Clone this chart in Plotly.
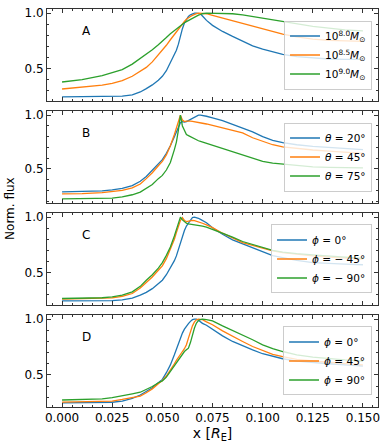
import plotly.graph_objects as go
from plotly.subplots import make_subplots

# shared x grid [R_E]
x = [0.000, 0.010, 0.020, 0.025, 0.030, 0.035, 0.039, 0.042, 0.045, 0.048,
     0.050, 0.052, 0.054, 0.056, 0.057, 0.058, 0.059, 0.060, 0.061, 0.062,
     0.063, 0.064, 0.065, 0.066, 0.067, 0.068, 0.069, 0.070, 0.072, 0.075,
     0.080, 0.085, 0.090, 0.095, 0.100, 0.105, 0.110, 0.117, 0.125, 0.133,
     0.141, 0.150]

# Panel A: black hole mass
a_m80 = [0.244, 0.244, 0.245, 0.246, 0.250, 0.262, 0.288, 0.318, 0.352, 0.395,
         0.430, 0.480, 0.550, 0.625, 0.665, 0.720, 0.800, 0.860, 0.910, 0.945,
         0.970, 0.985, 0.995, 1.000, 1.000, 1.000, 0.995, 0.975, 0.935, 0.890,
         0.835, 0.790, 0.745, 0.705, 0.675, 0.650, 0.628, 0.607, 0.594, 0.586,
         0.583, 0.582]
a_m85 = [0.315, 0.330, 0.350, 0.365, 0.390, 0.430, 0.473, 0.510, 0.560, 0.620,
         0.667, 0.710, 0.760, 0.810, 0.835, 0.860, 0.885, 0.905, 0.925, 0.945,
         0.960, 0.970, 0.980, 0.990, 0.995, 1.000, 1.000, 1.000, 0.995, 0.980,
         0.955, 0.930, 0.905, 0.880, 0.855, 0.835, 0.810, 0.785, 0.765, 0.755,
         0.750, 0.745]
a_m90 = [0.378, 0.400, 0.435, 0.460, 0.490, 0.540, 0.590, 0.630, 0.670, 0.715,
         0.745, 0.780, 0.815, 0.845, 0.860, 0.875, 0.890, 0.902, 0.913, 0.924,
         0.935, 0.945, 0.955, 0.965, 0.975, 0.982, 0.988, 0.995, 1.000, 1.000,
         1.000, 0.995, 0.985, 0.970, 0.950, 0.935, 0.920, 0.900, 0.880, 0.865,
         0.850, 0.840]

# Panel B: inclination theta
b_t20 = [0.287, 0.290, 0.297, 0.305, 0.320, 0.345, 0.385, 0.430, 0.485, 0.545,
         0.586, 0.645, 0.715, 0.800, 0.845, 0.890, 0.930, 0.940, 0.935, 0.940,
         0.950, 0.960, 0.970, 0.980, 0.990, 1.000, 1.000, 0.998, 0.990, 0.975,
         0.950, 0.915, 0.880, 0.845, 0.800, 0.765, 0.745, 0.725, 0.710, 0.700,
         0.690, 0.680]
b_t45 = [0.268, 0.270, 0.280, 0.287, 0.300, 0.325, 0.360, 0.410, 0.465, 0.530,
         0.570, 0.630, 0.715, 0.820, 0.880, 0.950, 1.000, 0.955, 0.940, 0.945,
         0.948, 0.945, 0.942, 0.940, 0.935, 0.930, 0.928, 0.925, 0.918, 0.905,
         0.880, 0.860, 0.835, 0.790, 0.755, 0.725, 0.705, 0.690, 0.676, 0.665,
         0.655, 0.645]
b_t75 = [0.222, 0.222, 0.225, 0.228, 0.240, 0.260, 0.285, 0.320, 0.355, 0.410,
         0.440, 0.490, 0.560, 0.680, 0.750, 0.860, 1.000, 0.900, 0.860, 0.820,
         0.810, 0.800, 0.785, 0.775, 0.768, 0.762, 0.756, 0.750, 0.736, 0.720,
         0.690, 0.660, 0.630, 0.600, 0.570, 0.555, 0.545, 0.530, 0.520, 0.515,
         0.512, 0.510]

# Panel C: azimuth phi (negative)
c_p0 = [0.244, 0.244, 0.245, 0.246, 0.252, 0.268, 0.295, 0.320, 0.354, 0.395,
        0.430, 0.480, 0.540, 0.607, 0.650, 0.710, 0.770, 0.830, 0.880, 0.920,
        0.950, 0.975, 0.997, 1.000, 0.998, 0.990, 0.980, 0.968, 0.950, 0.905,
        0.845, 0.795, 0.760, 0.725, 0.685, 0.652, 0.635, 0.610, 0.590, 0.580,
        0.575, 0.570]
c_m45 = [0.260, 0.262, 0.266, 0.270, 0.285, 0.310, 0.360, 0.410, 0.460, 0.520,
         0.560, 0.625, 0.710, 0.800, 0.860, 0.915, 0.970, 0.995, 0.970, 0.960,
         0.965, 0.970, 0.970, 0.968, 0.963, 0.958, 0.950, 0.945, 0.930, 0.905,
         0.855, 0.810, 0.770, 0.745, 0.720, 0.695, 0.680, 0.665, 0.650, 0.640,
         0.630, 0.620]
c_m90 = [0.265, 0.267, 0.272, 0.280, 0.295, 0.325, 0.375, 0.430, 0.480, 0.540,
         0.590, 0.655, 0.730, 0.830, 0.890, 0.950, 1.000, 0.975, 0.955, 0.945,
         0.940, 0.938, 0.935, 0.932, 0.930, 0.927, 0.923, 0.920, 0.910, 0.890,
         0.855, 0.820, 0.780, 0.755, 0.725, 0.700, 0.685, 0.670, 0.660, 0.648,
         0.638, 0.628]

# Panel D: azimuth phi (positive)
d_p0 = [0.250, 0.250, 0.252, 0.255, 0.265, 0.290, 0.320, 0.350, 0.385, 0.430,
        0.460, 0.520, 0.590, 0.680, 0.730, 0.780, 0.835, 0.875, 0.910, 0.940,
        0.960, 0.980, 0.995, 1.000, 1.000, 0.990, 0.975, 0.962, 0.945, 0.910,
        0.850, 0.800, 0.760, 0.725, 0.690, 0.665, 0.645, 0.624, 0.610, 0.600,
        0.590, 0.580]
d_p45 = [0.257, 0.258, 0.260, 0.266, 0.280, 0.295, 0.310, 0.340, 0.375, 0.420,
         0.450, 0.490, 0.540, 0.600, 0.630, 0.660, 0.685, 0.710, 0.735, 0.770,
         0.830, 0.890, 0.940, 0.975, 0.995, 1.000, 1.000, 0.995, 0.975, 0.950,
         0.895, 0.845, 0.800, 0.755, 0.720, 0.685, 0.665, 0.640, 0.625, 0.613,
         0.600, 0.590]
d_p90 = [0.275, 0.278, 0.285, 0.296, 0.310, 0.330, 0.345, 0.370, 0.396, 0.430,
         0.447, 0.480, 0.530, 0.580, 0.610, 0.640, 0.665, 0.690, 0.710, 0.725,
         0.740, 0.790, 0.860, 0.920, 0.965, 0.988, 0.995, 1.000, 0.995, 0.985,
         0.940, 0.900, 0.855, 0.815, 0.770, 0.735, 0.710, 0.680, 0.660, 0.645,
         0.635, 0.625]

panels = [
    ("A", [a_m80, a_m85, a_m90],
     ["10<sup>8.0</sup><i>M</i><sub>⊙</sub>", "10<sup>8.5</sup><i>M</i><sub>⊙</sub>",
      "10<sup>9.0</sup><i>M</i><sub>⊙</sub>"]),
    ("B", [b_t20, b_t45, b_t75],
     ["<i>θ</i> = 20°", "<i>θ</i> = 45°", "<i>θ</i> = 75°"]),
    ("C", [c_p0, c_m45, c_m90],
     ["<i>ϕ</i> = 0°", "<i>ϕ</i> = − 45°", "<i>ϕ</i> = − 90°"]),
    ("D", [d_p0, d_p45, d_p90],
     ["<i>ϕ</i> = 0°", "<i>ϕ</i> = 45°", "<i>ϕ</i> = 90°"]),
]
colors = ["#1f77b4", "#ff7f0e", "#2ca02c"]

fig = make_subplots(rows=4, cols=1, shared_xaxes=True, vertical_spacing=0.025)

ink = "#333333"
font = dict(family="DejaVu Sans", size=12, color="black")

for i, (label, series, names) in enumerate(panels):
    row = i + 1
    leg = "legend" if i == 0 else f"legend{row}"
    for ys, nm, c in zip(series, names, colors):
        fig.add_trace(go.Scatter(x=x, y=ys, mode="lines", name=nm,
                                 line=dict(color=c, width=1.3), legend=leg),
                      row=row, col=1)
    lo = min(min(s) for s in series)
    hi = max(max(s) for s in series)
    pad = 0.05 * (hi - lo)
    fig.update_yaxes(range=[lo - pad, hi + pad], tickvals=[0.5, 1.0],
                     ticktext=["0.5", "1.0"], row=row, col=1)

    yref = "y" if i == 0 else f"y{row}"
    xref = "x" if i == 0 else f"x{row}"
    fig.add_annotation(text=label, x=0.1, y=0.76, xref=f"{xref} domain",
                       yref=f"{yref} domain", xanchor="left", yanchor="middle",
                       showarrow=False, font=font)

    dom = fig.layout[f"yaxis{'' if i == 0 else row}"].domain
    fig.layout[leg] = dict(x=0.982, xanchor="right", y=(dom[0] + dom[1]) / 2,
                           yanchor="middle", bgcolor="rgba(255,255,255,0.8)",
                           bordercolor="#cccccc", borderwidth=1,
                           font=dict(family="DejaVu Sans", size=10.5, color="black"),
                           tracegroupgap=0, itemwidth=30)

fig.update_xaxes(range=[-0.0075, 0.1575], dtick=0.025, tick0=0, tickformat=".3f",
                 ticks="inside", ticklen=4, tickwidth=1, tickcolor=ink,
                 showline=True, linecolor=ink, linewidth=1, mirror="allticks",
                 showgrid=False, zeroline=False,
                 minor=dict(ticks="inside", ticklen=2, dtick=0.005, tickcolor=ink))
fig.update_yaxes(ticks="inside", ticklen=4, tickwidth=1, tickcolor=ink,
                 showline=True, linecolor=ink, linewidth=1, mirror="allticks",
                 showgrid=False, zeroline=False,
                 minor=dict(ticks="inside", ticklen=2, dtick=0.1, tick0=0, tickcolor=ink))
fig.update_xaxes(title=dict(text="x [<i>R</i><sub>E</sub>]", standoff=2), row=4, col=1)

fig.add_annotation(text="Norm. flux", x=-0.112, y=0.5, xref="paper", yref="paper",
                   textangle=-90, showarrow=False, xanchor="center", yanchor="middle",
                   font=font)

fig.update_layout(width=390, height=448, margin=dict(l=47, r=12, t=6, b=41),
                  plot_bgcolor="white", paper_bgcolor="white", font=font)

# drop the browser's default page margin so the figure sits at the window corner
fig.write_html("out.html", config={"displayModeBar": False},
               post_script="document.body.style.margin='0';")
